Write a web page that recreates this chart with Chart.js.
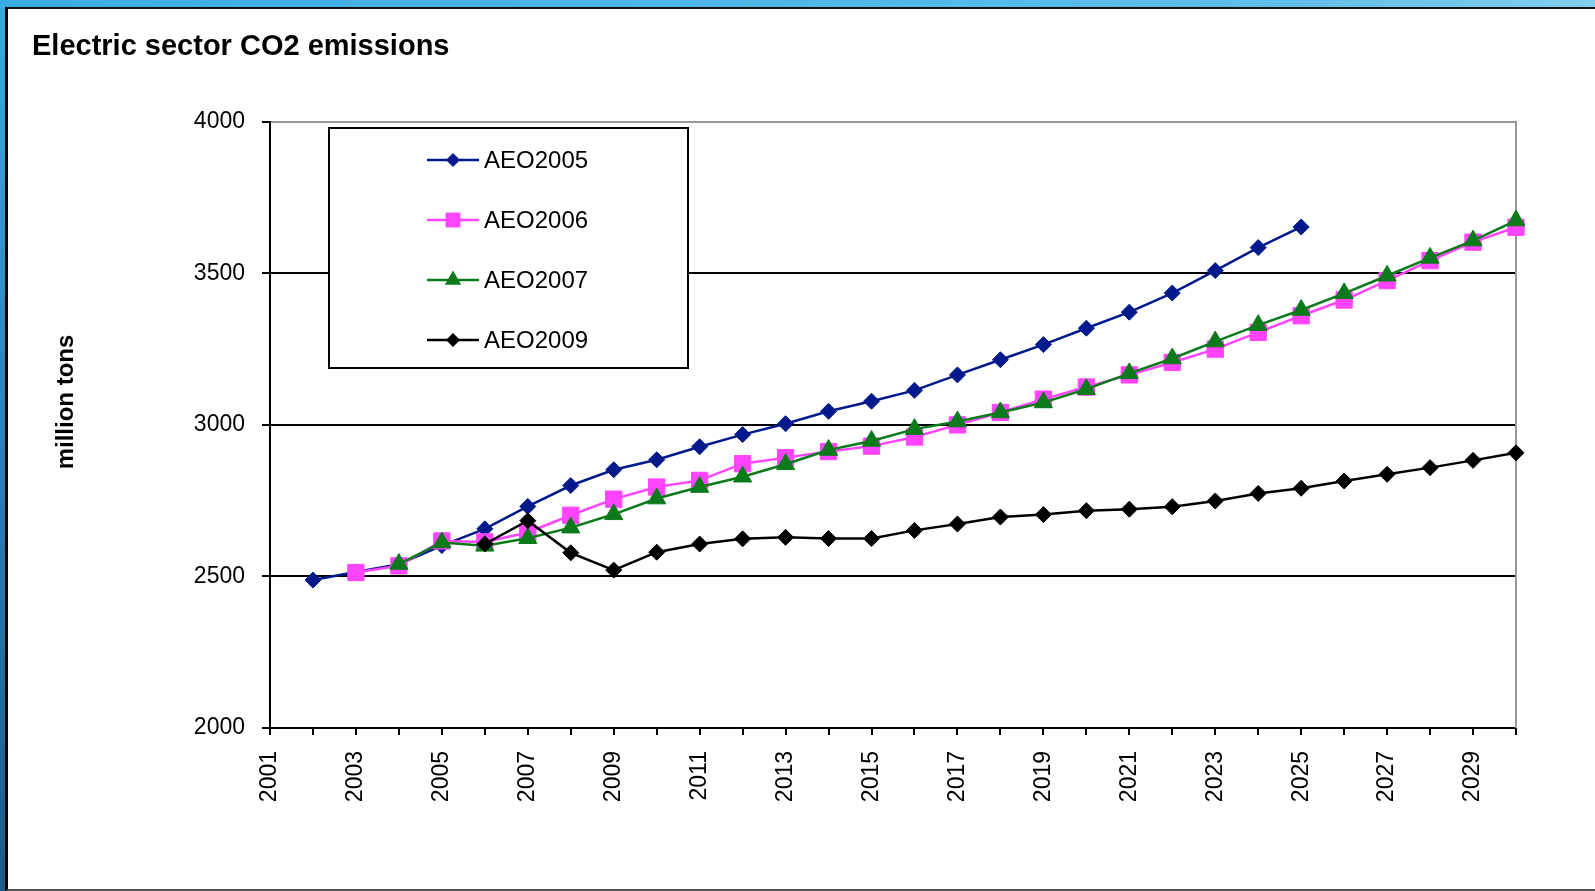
<!DOCTYPE html>
<html>
<head>
<meta charset="utf-8">
<script src="https://cdn.jsdelivr.net/npm/chart.js@4.4.1/dist/chart.umd.min.js"></script>
<style>
  html, body { margin: 0; padding: 0; width: 1595px; height: 891px; overflow: hidden; }
  body { background: linear-gradient(to bottom, #3aa9e1, #1d5a8c); position: relative; }
  #band { position: absolute; left: 0; top: 0; width: 1595px; height: 8px;
          background: linear-gradient(to right, #3aabe3, #5fbeea 80%, #82cdf0); }
  #panel { position: absolute; left: 5px; top: 7px; width: 1600px; height: 880px;
           background: #fff; border-left: 3px solid #000; border-top: 2px solid #111;
           border-bottom: 2px solid #555; }
  #wrap { position: absolute; left: 0; top: 0; width: 1595px; height: 891px; }
</style>
</head>
<body>
<div id="band"></div>
<div id="panel"></div>
<div id="wrap"><canvas id="co2-chart" width="1595" height="891"></canvas></div>
<script>
  // Jahre / categories
  const years = [];
  for (let y = 2001; y <= 2030; y++) years.push(String(y));

  const yTicks = [2000, 2500, 3000, 3500, 4000];

  // million tons (null = no value)
  const aeo2005 = [null, 2488, 2515, 2540, 2602, 2657, 2731, 2800, 2852, 2885, 2928, 2968, 3004, 3045, 3078,
    3114, 3165, 3215, 3265, 3319, 3372, 3435, 3509, 3585, 3653, null, null, null, null, null];
  const aeo2006 = [null, null, 2513, 2535, 2617, 2614, 2645, 2702, 2755, 2795, 2817, 2872, 2892, 2912, 2930,
    2960, 3000, 3041, 3085, 3125, 3165, 3206, 3250, 3305, 3360, 3412, 3476, 3542, 3603, 3652];
  const aeo2007 = [null, null, null, 2541, 2612, 2601, 2626, 2661, 2705, 2757, 2795, 2829, 2870, 2917, 2947,
    2986, 3011, 3041, 3074, 3118, 3170, 3219, 3275, 3329, 3379, 3434, 3492, 3551, 3608, 3674];
  const aeo2009 = [null, null, null, null, null, 2607, 2684, 2578, 2521, 2580, 2607, 2624, 2629, 2625, 2625,
    2652, 2673, 2696, 2704, 2717, 2722, 2730, 2749, 2774, 2791, 2815, 2837, 2859, 2883, 2908];

  Chart.defaults.font.family = "'Liberation Sans', Arial, sans-serif";
  Chart.defaults.color = '#000';

  const lineStyle = {
    borderWidth: 2.5,
    pointBorderWidth: 1,
    tension: 0,
    clip: false,
    spanGaps: false
  };

  // later series are drawn on top (lower order = on top)
  const data = {
    labels: years,
    datasets: [
      { label: 'AEO2005', data: aeo2005, borderColor: '#001a8c', backgroundColor: '#001a8c',
        pointStyle: 'rectRot', pointRadius: 8, order: 4, ...lineStyle },
      { label: 'AEO2006', data: aeo2006, borderColor: '#ff44ff', backgroundColor: '#ff44ff',
        pointStyle: 'rect', pointRadius: 11.5, order: 3, ...lineStyle },
      { label: 'AEO2007', data: aeo2007, borderColor: '#0a7a1a', backgroundColor: '#0a7a1a',
        pointStyle: 'triangle', pointRadius: 10.5, order: 2, ...lineStyle },
      { label: 'AEO2009', data: aeo2009, borderColor: '#000000', backgroundColor: '#000000',
        pointStyle: 'rectRot', pointRadius: 8, order: 1, ...lineStyle }
    ]
  };

  // marker for the legend box
  function drawMarker(ctx, style, r, x, y, color) {
    ctx.fillStyle = color;
    ctx.beginPath();
    if (style === 'rectRot') {
      ctx.moveTo(x, y - r); ctx.lineTo(x + r, y); ctx.lineTo(x, y + r); ctx.lineTo(x - r, y);
    } else if (style === 'rect') {
      const s = r * Math.SQRT1_2;
      ctx.rect(x - s, y - s, 2 * s, 2 * s);
    } else {
      ctx.moveTo(x, y - r);
      ctx.lineTo(x + r * Math.sin(Math.PI * 2 / 3), y + r / 2);
      ctx.lineTo(x - r * Math.sin(Math.PI * 2 / 3), y + r / 2);
    }
    ctx.closePath();
    ctx.fill();
  }

  // Legend box, right border, y title
  const extras = {
    id: 'extras',
    beforeDatasetsDraw(chart) {
      const ctx = chart.ctx;
      const area = chart.chartArea;
      ctx.save();
      ctx.strokeStyle = '#999';
      ctx.lineWidth = 2;
      ctx.beginPath();
      ctx.moveTo(area.right, area.top - 1);
      ctx.lineTo(area.right, area.bottom);
      ctx.stroke();

      ctx.fillStyle = '#fff';
      ctx.fillRect(329, 128, 359, 240);
      ctx.strokeStyle = '#000';
      ctx.strokeRect(329, 128, 359, 240);

      ctx.font = "24px 'Liberation Sans', Arial, sans-serif";
      ctx.textBaseline = 'middle';
      ctx.textAlign = 'left';
      chart.data.datasets.forEach(function(ds, i) {
        const y = 160 + i * 60;
        ctx.strokeStyle = ds.borderColor;
        ctx.lineWidth = 2.5;
        ctx.beginPath();
        ctx.moveTo(427, y);
        ctx.lineTo(479, y);
        ctx.stroke();
        drawMarker(ctx, ds.pointStyle, ds.pointRadius - 1, 453, y, ds.backgroundColor);
        ctx.fillStyle = '#000';
        ctx.fillText(ds.label, 484, y + 1);
      });
      ctx.restore();
    },
    afterDraw(chart) {
      const ctx = chart.ctx;
      ctx.save();
      ctx.translate(66, 402);
      ctx.rotate(-Math.PI / 2);
      ctx.font = "bold 24px 'Liberation Sans', Arial, sans-serif";
      ctx.fillStyle = '#000';
      ctx.textAlign = 'center';
      ctx.textBaseline = 'middle';
      ctx.fillText('million tons', 0, 0);
      ctx.restore();
    }
  };

  const options = {
    responsive: false,
    animation: false,
    events: [],
    layout: {
      padding: { left: 32, right: 79, top: 0, bottom: 0 }
    },
    scales: {
      x: {
        type: 'category',
        offset: false,
        afterFit: function(scale) { scale.height = 163; },
        border: { color: '#000', width: 2 },
        grid: {
          drawOnChartArea: false,
          drawTicks: true,
          tickLength: 7,
          tickColor: '#000',
          tickWidth: 2,
          color: '#000',
          lineWidth: 2
        },
        ticks: {
          autoSkip: false,
          maxRotation: 90,
          minRotation: 90,
          padding: 16,
          font: { size: 23 },
          callback: function(value, index) {
            return index % 2 === 0 ? this.getLabelForValue(value) : '';
          }
        }
      },
      y: {
        min: 2000,
        max: 4000,
        afterFit: function(scale) { scale.width = 238; },
        afterBuildTicks: function(scale) {
          scale.ticks = yTicks.map(function(v) { return { value: v }; });
        },
        border: { color: '#000', width: 2 },
        grid: {
          color: function(c) { return c.tick && c.tick.value === 4000 ? '#999' : '#000'; },
          lineWidth: 2,
          tickLength: 8,
          tickColor: '#000',
          tickWidth: 2
        },
        ticks: {
          padding: 17,
          font: { size: 23 },
          callback: function(value) { return String(value); }
        }
      }
    },
    plugins: {
      legend: { display: false },
      tooltip: { enabled: false },
      title: {
        display: true,
        text: 'Electric sector CO2 emissions',
        align: 'start',
        color: '#000',
        font: { size: 29, weight: 'bold' },
        padding: { top: 30, bottom: 57 }
      }
    }
  };

  const ctx = document.getElementById('co2-chart').getContext('2d');
  const co2Chart = new Chart(ctx, {
    type: 'line',
    data: data,
    options: options,
    plugins: [extras]
  });
</script>
</body>
</html>
